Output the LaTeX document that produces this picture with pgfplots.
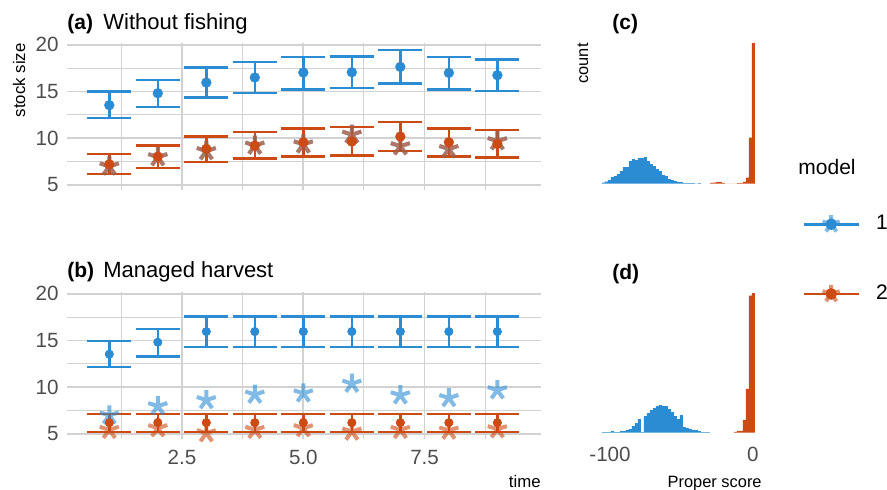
\documentclass[border=0pt]{standalone}
\usepackage{pgfplots}
\pgfplotsset{compat=1.18}
\usepackage{pgfplotstable}
\usepackage{fontspec}
\setmainfont{Liberation Sans}
\usetikzlibrary{plotmarks}
\definecolor{mblue}{HTML}{2B8CD4}
\definecolor{morange}{HTML}{CC4B14}
\definecolor{tickgray}{HTML}{4D4D4D}

% (a) Without fishing
\pgfplotstableread{
t mean lo hi
1 13.54 12.15 15.00
2 14.82 13.36 16.25
3 15.96 14.36 17.57
4 16.50 14.86 18.18
5 17.04 15.25 18.68
6 17.07 15.36 18.75
7 17.64 15.86 19.47
8 17.00 15.25 18.68
9 16.75 15.07 18.46
}\aone
\pgfplotstableread{
t mean lo hi
1 7.20 6.18 8.29
2 8.03 6.79 9.25
3 8.86 7.43 10.18
4 9.20 7.82 10.68
5 9.57 8.07 11.07
6 9.64 8.14 11.21
7 10.18 8.61 11.75
8 9.57 8.07 11.04
9 9.39 7.93 10.86
}\atwo
% observations (a) and model 1 in (b)
\pgfplotstableread{
t obs
1 6.98
2 7.97
3 8.62
4 9.21
5 9.34
6 10.38
7 9.14
8 8.84
9 9.68
}\obsA
% (b) Managed harvest
\pgfplotstableread{
t mean lo hi
1 13.54 12.15 14.97
2 14.82 13.32 16.25
3 15.96 14.32 17.56
4 15.96 14.32 17.56
5 15.96 14.32 17.56
6 15.96 14.32 17.56
7 15.96 14.32 17.56
8 15.96 14.32 17.56
9 15.96 14.32 17.56
}\bone
\pgfplotstableread{
t mean lo hi
1 6.20 5.18 7.13
2 6.20 5.18 7.13
3 6.20 5.18 7.13
4 6.20 5.18 7.13
5 6.20 5.18 7.13
6 6.20 5.18 7.13
7 6.20 5.18 7.13
8 6.20 5.18 7.13
9 6.20 5.18 7.13
}\btwo
\pgfplotstableread{
t obs
1 5.43
2 5.61
3 5.07
4 5.43
5 5.61
6 5.25
7 5.43
8 5.36
9 5.50
}\obsB

\pgfplotsset{
  tsaxis/.style={scale only axis, width=237pt, height=73.5pt,
    xmin=0.128, xmax=9.9, ymin=4.45, ymax=20.2,
    axis line style={draw=none}, major tick length=0pt, minor tick length=0pt,
    ytick={5,10,15,20}, minor ytick={7.5,12.5,17.5},
    xtick={2.5,5,7.5}, minor xtick={1.25,3.75,6.25,8.75},
    grid=both,
    major grid style={gray!35, line width=0.85pt},
    minor grid style={gray!35, line width=0.5pt},
    tick label style={font=\fontsize{10.3}{12}\selectfont, text=tickgray},
    yticklabel style={inner sep=0pt, xshift=-4pt},
    xticklabel style={inner sep=0pt, yshift=-5.5pt},
    /pgf/number format/assume math mode=true,
    clip=false},
  ebar/.style={only marks, mark=none, forget plot, color=#1,
    error bars/.cd, y dir=both, y explicit,
    error bar style={line width=1.2pt, #1},
    error mark=|, error mark options={line width=1.3pt, mark size=11pt, #1}},
  obsstar/.style={only marks, mark=star, mark size=5pt, color=#1,
    mark options={line width=2pt, draw=#1, draw opacity=0.6}},
  pts/.style={only marks, mark=*, color=#1,
    mark options={draw=#1, fill=#1, line width=0.1pt}},
  hist/.style={scale only axis, width=82.2pt, xmin=-110, xmax=5, ymin=0,
    axis line style={draw=none}, major tick length=0pt, ytick=\empty,
    tick label style={font=\fontsize{10.3}{12}\selectfont, text=tickgray},
    xticklabel style={inner sep=0pt, yshift=-7.2pt},
    clip=false},
}

\begin{document}
\begin{tikzpicture}[x=1pt,y=1pt]
\useasboundingbox (0,0) rectangle (443.5,244.5);

% ---------- (a) ----------
\begin{axis}[tsaxis, at={(33.5pt,149.5pt)}, anchor=south west, xticklabels={,,}]
\addplot[ebar=mblue] table[x=t, y=mean, y error plus expr=\thisrow{hi}-\thisrow{mean}, y error minus expr=\thisrow{mean}-\thisrow{lo}] {\aone};
\addplot[ebar=morange] table[x=t, y=mean, y error plus expr=\thisrow{hi}-\thisrow{mean}, y error minus expr=\thisrow{mean}-\thisrow{lo}] {\atwo};
\addplot[obsstar=mblue] table[x=t, y=obs] {\obsA};
\addplot[obsstar=morange] table[x=t, y=obs] {\obsA};
\addplot[pts=mblue, mark size=2.5pt] table[x=t, y=mean] {\aone};
\addplot[pts=morange, mark size=2.5pt] table[x=t, y=mean] {\atwo};
\end{axis}

% ---------- (b) ----------
\begin{axis}[tsaxis, at={(33.5pt,25pt)}, anchor=south west, xticklabels={2.5,5.0,7.5}]
\addplot[ebar=mblue] table[x=t, y=mean, y error plus expr=\thisrow{hi}-\thisrow{mean}, y error minus expr=\thisrow{mean}-\thisrow{lo}] {\bone};
\addplot[ebar=morange] table[x=t, y=mean, y error plus expr=\thisrow{hi}-\thisrow{mean}, y error minus expr=\thisrow{mean}-\thisrow{lo}] {\btwo};
\addplot[obsstar=mblue] table[x=t, y=obs] {\obsA};
\addplot[obsstar=morange] table[x=t, y=obs] {\obsB};
\addplot[pts=mblue, mark size=2.1pt] table[x=t, y=mean] {\bone};
\addplot[pts=morange, mark size=2.1pt] table[x=t, y=mean] {\btwo};
\end{axis}

% ---------- (c) ----------
\begin{axis}[hist, at={(297.85pt,152.75pt)}, anchor=south west, height=70.25pt, ymax=140.5, xtick=\empty]
\addplot[const plot, fill=mblue, draw=none] coordinates {
(-105.7,1) (-103.6,2) (-101.5,3.3) (-99.4,6.3) (-97.3,7.3) (-95.2,9.3) (-93.1,12.3)
(-91.0,16.3) (-88.9,16.3) (-86.8,22.3) (-84.7,24.3) (-82.6,23.3) (-80.5,25.3) (-78.4,25.3)
(-76.3,26.3) (-74.2,22.3) (-72.1,19.3) (-70.0,17.3) (-67.9,14.3) (-65.8,12.3) (-63.7,8.3)
(-61.6,7.3) (-59.5,4.3) (-57.4,3.3) (-55.3,2.3) (-53.2,1.3) (-51.1,1.3) (-49.0,0.5)
(-46.9,0.5) (-44.8,0.5) (-42.7,0.5) (-40.6,0) (-38.5,0.5) (-36.4,0)} \closedcycle;
\addplot[const plot, fill=morange, draw=none] coordinates {
(-30.1,0.7) (-28.0,1.0) (-25.9,1.3) (-23.8,1.3) (-21.7,0.7) (-19.6,0)
(-11.2,0.5) (-9.1,0.5) (-7.0,1.7) (-4.9,6) (-2.8,46) (-0.7,140.5) (1.4,0)} \closedcycle;
\end{axis}

% ---------- (d) ----------
\begin{axis}[hist, at={(297.85pt,28.25pt)}, anchor=south west, height=69.75pt, ymax=139.5, xtick={-100,0}, xticklabels={-100,0}]
\addplot[const plot, fill=mblue, draw=none] coordinates {
(-105.7,0.4) (-103.6,0.4) (-101.5,0.4) (-99.4,1.3) (-97.3,0.4) (-95.2,0.4) (-93.1,1.3)
(-91.0,1.3) (-88.9,2.3) (-86.8,3.3) (-84.7,6.3) (-82.6,9.3) (-80.5,13.3) (-78.4,0.4)
(-76.3,16.3) (-74.2,19.3) (-72.1,22.3) (-70.0,24.3) (-67.9,26.3) (-65.8,27.3) (-63.7,26.3)
(-61.6,26.3) (-59.5,23.3) (-57.4,20.3) (-55.3,16.3) (-53.2,13.3) (-51.1,17.3) (-49.0,5.3)
(-46.9,4.3) (-44.8,3.3) (-42.7,2.3) (-40.6,2.3) (-38.5,1.3) (-36.4,0.4) (-34.3,0.4)
(-32.2,0.4) (-30.1,0)} \closedcycle;
\addplot[const plot, fill=morange, draw=none] coordinates {
(-13.3,0.7) (-11.2,1.7) (-9.1,1.7) (-7.0,12.7) (-4.9,43.7) (-2.8,137) (-0.7,139.5) (1.4,0)} \closedcycle;
\end{axis}

% ---------- legend ----------
\begin{axis}[at={(0pt,0pt)}, anchor=south west, scale only axis, width=443.5pt, height=244.5pt,
  xmin=0, xmax=1, ymin=0, ymax=1, hide axis,
  legend cell align=left,
  legend style={at={(401/443.5,115/244.5)}, anchor=west, draw=none, fill=none,
    inner sep=0pt, row sep=26pt, column sep=8pt,
    font=\fontsize{10.5}{12}\selectfont, nodes={inner sep=0pt}}]
\addlegendimage{legend image code/.code={
  \draw[mblue, line width=1.3pt] (0pt,0pt) -- (27.5pt,0pt);
  \begin{scope}[shift={(13.75pt,0pt)}, draw=mblue, draw opacity=0.6, line width=2pt]
    \pgfsetplotmarksize{4.5pt}\pgfuseplotmark{star}
  \end{scope}
  \fill[mblue] (13.75pt,0pt) circle (2.7pt);
}}
\addlegendentry{1}
\addlegendimage{legend image code/.code={
  \draw[morange, line width=1.3pt] (0pt,0pt) -- (27.5pt,0pt);
  \begin{scope}[shift={(13.75pt,0pt)}, draw=morange, draw opacity=0.6, line width=2pt]
    \pgfsetplotmarksize{4.5pt}\pgfuseplotmark{star}
  \end{scope}
  \fill[morange] (13.75pt,0pt) circle (2.7pt);
}}
\addlegendentry{2}
\end{axis}

% ---------- texts ----------
\node[anchor=base west, inner sep=0pt, font=\fontsize{10.5}{12}\selectfont\bfseries] at (33.5,229.9) {(a)};
\node[anchor=base west, inner sep=0pt, font=\fontsize{11}{13}\selectfont] at (51.5,229.9) {Without fishing};
\node[anchor=base west, inner sep=0pt, font=\fontsize{10.5}{12}\selectfont\bfseries] at (33.5,105.85) {(b)};
\node[anchor=base west, inner sep=0pt, font=\fontsize{11}{13}\selectfont] at (51.5,105.85) {Managed harvest};
\node[anchor=base west, inner sep=0pt, font=\fontsize{10.5}{12}\selectfont\bfseries] at (306,229.7) {(c)};
\node[anchor=base west, inner sep=0pt, font=\fontsize{10.5}{12}\selectfont\bfseries] at (306,104.8) {(d)};
\node[rotate=90, anchor=base east, inner sep=0pt, font=\fontsize{8.4}{10}\selectfont] at (12.5,223) {stock size};
\node[rotate=90, anchor=base east, inner sep=0pt, font=\fontsize{8.2}{10}\selectfont] at (294,223) {count};
\node[anchor=base east, inner sep=0pt, font=\fontsize{8.4}{10}\selectfont] at (270.5,0.6) {time};
\node[anchor=base east, inner sep=0pt, font=\fontsize{8.2}{10}\selectfont] at (381,0.8) {Proper score};
\node[anchor=base west, inner sep=0pt, font=\fontsize{10.5}{12}\selectfont] at (399,157.5) {model};
\end{tikzpicture}
\end{document}
